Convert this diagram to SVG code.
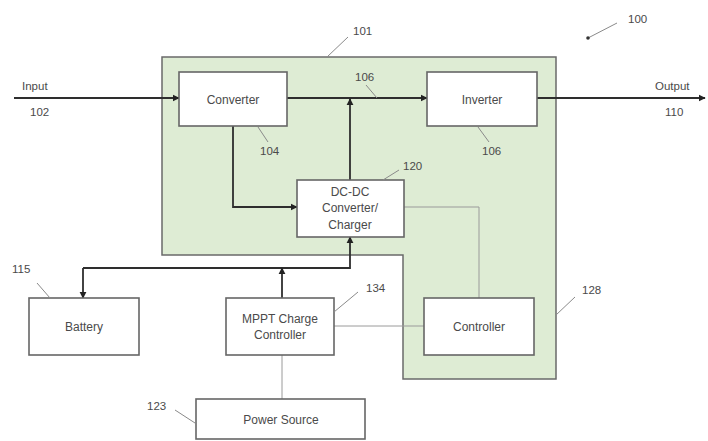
<svg xmlns="http://www.w3.org/2000/svg" width="708" height="441" viewBox="0 0 708 441">
<style>
.box{fill:#ffffff;stroke:#666666;stroke-width:1.6}
.t{font-family:"Liberation Sans",Arial,sans-serif;font-size:12px;fill:#4a4a4a;text-anchor:middle}
.lbl{font-family:"Liberation Sans",Arial,sans-serif;font-size:11.5px;fill:#4a4a4a}
.w{fill:none;stroke:#2e2e2e;stroke-width:1.8}
.thin{fill:none;stroke:#9a9a9a;stroke-width:1}
.lead{fill:none;stroke:#8a8a8a;stroke-width:1}
</style>
<defs>
<marker id="ah" viewBox="0 0 10 10" refX="9" refY="5" markerWidth="4" markerHeight="4" orient="auto">
<path d="M0,0 L10,5 L0,10 z" fill="#222"/>
</marker>
</defs>
<rect width="708" height="441" fill="#ffffff"/>
<g id="region-101">
<polygon points="162,57 556,57 556,379 403,379 403,255 162,255" fill="#deecd4" stroke="#6a6a6a" stroke-width="1.5"/>
</g>
<g id="connectors">
<path class="w" d="M14,98 H179" marker-end="url(#ah)"/>
<path class="w" d="M287,98 H427" marker-end="url(#ah)"/>
<path class="w" d="M537,98 H705" marker-end="url(#ah)"/>
<path class="w" d="M350,180 V99" marker-end="url(#ah)"/>
<path class="w" d="M233,126 V207 H297" marker-end="url(#ah)"/>
<path class="thin" d="M404,207 H479 V298"/>
<path class="w" d="M83,268 H350 V237" marker-end="url(#ah)"/>
<path class="w" d="M83,268 V298" marker-end="url(#ah)"/>
<path class="w" d="M282,298 V268" marker-end="url(#ah)"/>
<path class="thin" d="M282,355 V399"/>
<path class="thin" d="M334,326 H424"/>
</g>
<g id="converter">
<rect class="box" x="179" y="72" width="108" height="54"/>
<text class="t" x="233" y="104">Converter</text>
</g>
<g id="inverter">
<rect class="box" x="427" y="72" width="110" height="54"/>
<text class="t" x="482" y="104">Inverter</text>
</g>
<g id="dcdc">
<rect class="box" x="297" y="180" width="107" height="57"/>
<text class="t" x="350" y="196">DC-DC</text>
<text class="t" x="350" y="212">Converter/</text>
<text class="t" x="350" y="229">Charger</text>
</g>
<g id="battery">
<rect class="box" x="29" y="298" width="110" height="57"/>
<text class="t" x="84" y="331">Battery</text>
</g>
<g id="mppt">
<rect class="box" x="226" y="298" width="108" height="57"/>
<text class="t" x="280" y="323">MPPT Charge</text>
<text class="t" x="280" y="339">Controller</text>
</g>
<g id="controller">
<rect class="box" x="424" y="298" width="110" height="57"/>
<text class="t" x="479" y="331">Controller</text>
</g>
<g id="power-source">
<rect class="box" x="196" y="399" width="169" height="40"/>
<text class="t" x="281" y="424">Power Source</text>
</g>
<g id="labels">
<text class="lbl" x="22" y="90">Input</text>
<text class="lbl" x="30" y="116">102</text>
<text class="lbl" x="655" y="90">Output</text>
<text class="lbl" x="665" y="116">110</text>
<text class="lbl" x="353" y="35">101</text>
<path class="lead" d="M327,57 L348,37"/>
<text class="lbl" x="628" y="23">100</text>
<path class="lead" d="M588,38 L617,23"/>
<circle cx="588" cy="38" r="1.8" fill="#333"/>
<text class="lbl" x="260" y="155">104</text>
<path class="lead" d="M258,127 L268,142"/>
<text class="lbl" x="355" y="81">106</text>
<path class="lead" d="M366,85 L377,98"/>
<text class="lbl" x="482" y="155">106</text>
<path class="lead" d="M478,127 L489,142"/>
<text class="lbl" x="403" y="170">120</text>
<path class="lead" d="M383,180 L399,170"/>
<text class="lbl" x="12" y="273">115</text>
<path class="lead" d="M37,283 L50,298"/>
<text class="lbl" x="366" y="292">134</text>
<path class="lead" d="M334,312 L358,292"/>
<text class="lbl" x="582" y="294">128</text>
<path class="lead" d="M556,315 L575,297"/>
<text class="lbl" x="147" y="410">123</text>
<path class="lead" d="M175,410 L195,423"/>
</g>
</svg>
